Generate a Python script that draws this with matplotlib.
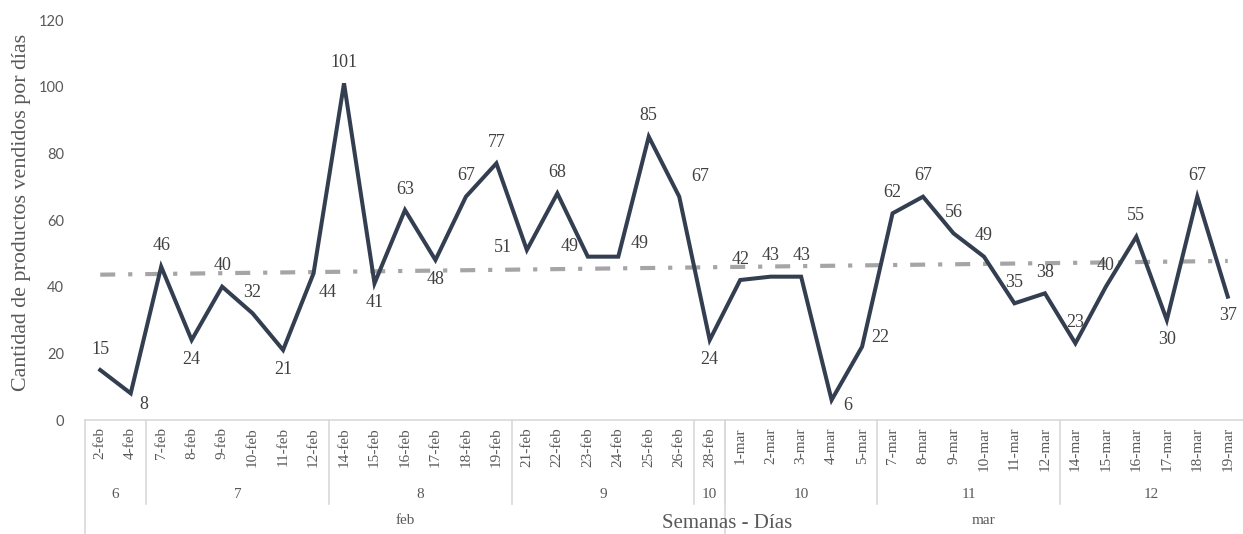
import numpy as np
import matplotlib
matplotlib.use("Agg")
import matplotlib.pyplot as plt
from matplotlib.transforms import blended_transform_factory

# ---- data ----
dates = ["2-feb", "4-feb", "7-feb", "8-feb", "9-feb", "10-feb", "11-feb", "12-feb",
         "14-feb", "15-feb", "16-feb", "17-feb", "18-feb", "19-feb",
         "21-feb", "22-feb", "23-feb", "24-feb", "25-feb", "26-feb", "28-feb",
         "1-mar", "2-mar", "3-mar", "4-mar", "5-mar",
         "7-mar", "8-mar", "9-mar", "10-mar", "11-mar", "12-mar",
         "14-mar", "15-mar", "16-mar", "17-mar", "18-mar", "19-mar"]
values = [15, 8, 46, 24, 40, 32, 21, 44,
          101, 41, 63, 48, 67, 77,
          51, 68, 49, 49, 85, 67, 24,
          42, 43, 43, 6, 22,
          62, 67, 56, 49, 35, 38,
          23, 40, 55, 30, 67, 37]
weeks = ["6", "6", "7", "7", "7", "7", "7", "7",
         "8", "8", "8", "8", "8", "8",
         "9", "9", "9", "9", "9", "9", "10",
         "10", "10", "10", "10", "10",
         "11", "11", "11", "11", "11", "11",
         "12", "12", "12", "12", "12", "12"]
months = [d.split("-")[1] for d in dates]
y_ticks = [0, 20, 40, 60, 80, 100, 120]

# ---- label placement (pixel offsets, style only) ----
A, B = (0, 21), (0, -19)
label_offsets = [A, (13, -11), A, B, A, A, B, (14, -19),
                 A, B, A, B, A, A,
                 (-24, 2), A, (-18, 10), (21, 13), A, (21, 20), B,
                 A, A, A, (16, -5), (18, 9),
                 A, A, A, A, A, A,
                 A, A, A, B, A, B]

W, H = 1243, 534
plt.rcParams['font.family'] = ['Liberation Serif', 'DejaVu Serif']
fig = plt.figure(figsize=(W / 100, H / 100), dpi=100)
ax = fig.add_axes([85 / W, 114 / H, 1158 / W, 400 / H])

x = np.arange(len(values))
line_col = '#333F50'
ax.plot(x, values, color=line_col, lw=2.9, solid_joinstyle='miter', zorder=3)

# linear trend line
coef = np.polyfit(x, values, 1)
trend = np.polyval(coef, x)
ax.plot(x, trend, color='#A5A5A5', lw=3.0, dashes=(3.6, 3.1, 1.0, 3.1),
        dash_capstyle='butt', zorder=2)

for xi, v, off in zip(x, values, label_offsets):
    ax.annotate(str(v), (xi, v), xytext=off, textcoords='offset pixels',
                ha='center', va='center', fontsize=13, color='#404040', zorder=4)

ax.set_xlim(-0.5, len(values) - 0.5)
ax.set_ylim(0, 120)
ax.set_yticks(y_ticks)
ax.tick_params(axis='y', length=0, pad=15, labelsize=10.5, labelcolor='#595959')
for lab in ax.get_yticklabels():
    lab.set_family(['Lato', 'DejaVu Sans'])
ax.set_xticks([])
for s in ['top', 'right', 'left']:
    ax.spines[s].set_visible(False)
ax.spines['bottom'].set_color('#D9D9D9')
ax.spines['bottom'].set_linewidth(1.2)

tr = blended_transform_factory(ax.transData, fig.transFigure)
grid_col = '#D9D9D9'

# rotated date labels
for xi, d in zip(x, dates):
    ax.text(xi, 1 - 427 / H, d, transform=tr, rotation=90, ha='center', va='top',
            fontsize=11, color='#595959')

# week groups
def runs(keys):
    out = []
    start = 0
    for i in range(1, len(keys) + 1):
        if i == len(keys) or keys[i] != keys[start]:
            out.append((start, i - 1, keys[start]))
            start = i
    return out

wk_keys = list(zip(months, weeks))
for s, e, k in runs(wk_keys):
    ax.text((s + e) / 2, 1 - 495 / H, k[1], transform=tr, ha='center', va='center',
            fontsize=11, color='#595959')
    if s > 0:
        ax.plot([s - 0.5, s - 0.5], [1 - 420 / H, 1 - 504 / H], transform=tr,
                color=grid_col, lw=1.2, clip_on=False)

for s, e, k in runs(months):
    ax.text((s + e) / 2, 1 - 521 / H, k, transform=tr, ha='center', va='center',
            fontsize=11, color='#595959')
    ax.plot([s - 0.5, s - 0.5], [1 - 420 / H, 0], transform=tr,
            color=grid_col, lw=1.2, clip_on=False)

fig.text(727 / W, 1 - 523 / H, 'Semanas - Días', ha='center', va='center',
         fontsize=15, color='#595959')
fig.text(22 / W, 1 - 212 / H, 'Cantidad de productos vendidos por días', rotation=90,
         ha='center', va='center', fontsize=15.8, color='#595959')

fig.savefig('out.png', dpi=100)
